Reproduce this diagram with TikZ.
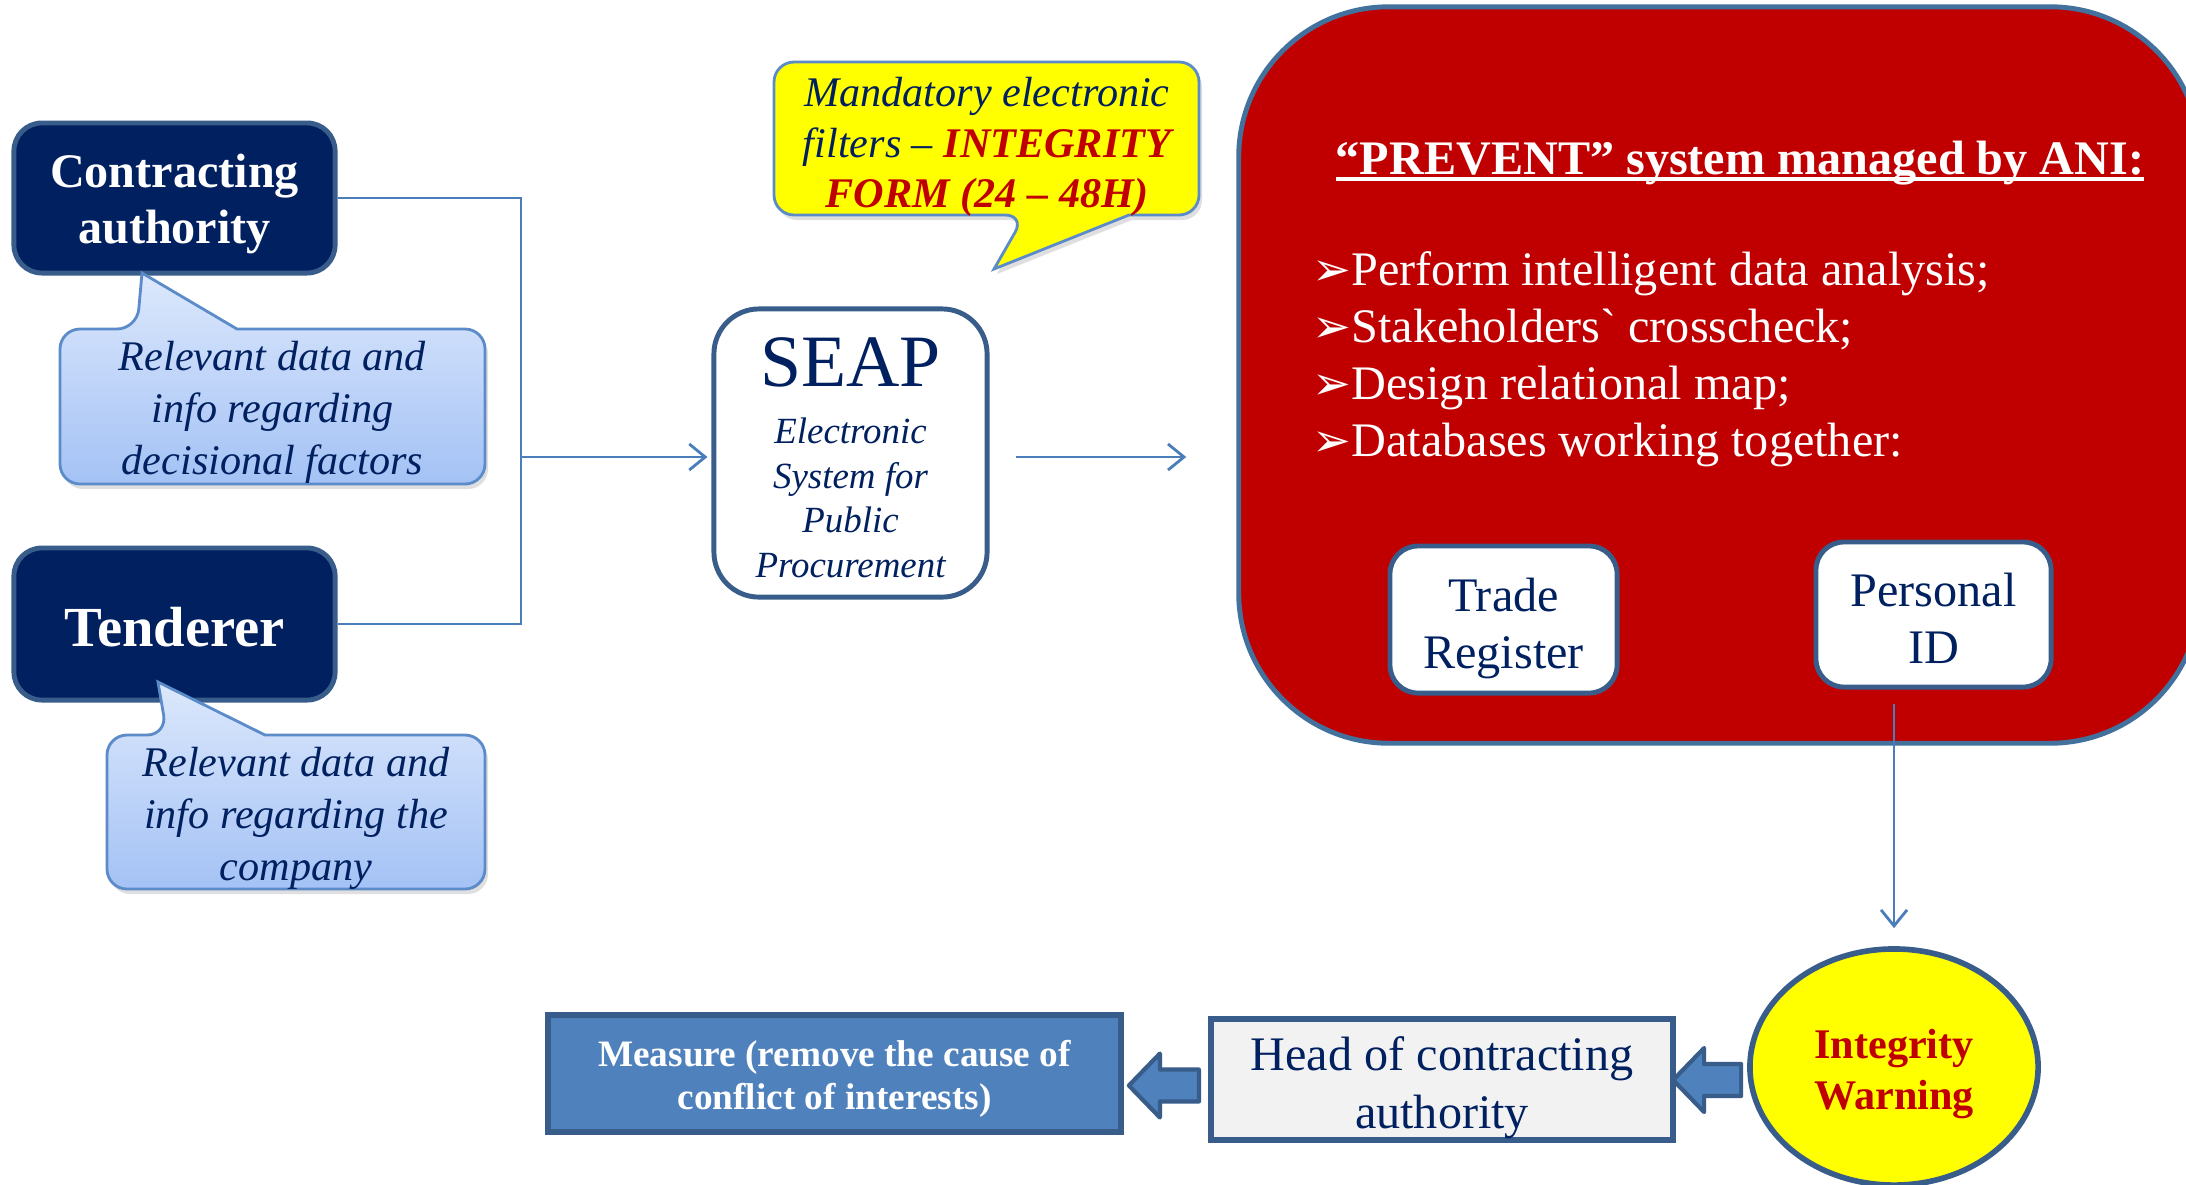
\documentclass[tikz,border=0pt]{standalone}
\usepackage{fontspec}
\setmainfont{Liberation Serif}
\newfontfamily\dejavu{DejaVu Sans}
\newfontfamily\rawserif{Liberation Serif}[Ligatures=TeXOff]
\usetikzlibrary{shapes.geometric,arrows.meta,calc,shadows}
\definecolor{navy}{HTML}{002060}
\definecolor{bordc}{HTML}{385D8A}
\definecolor{linec}{HTML}{4A7EBB}
\definecolor{cbord}{HTML}{5B8BC9}
\definecolor{cbtop}{HTML}{DCE8FC}
\definecolor{cbbot}{HTML}{A4C2F5}
\definecolor{redf}{HTML}{C00000}
\definecolor{redb}{HTML}{41719C}
\definecolor{darkred}{HTML}{C00000}
\definecolor{measf}{HTML}{4F81BD}
\definecolor{headf}{HTML}{F2F2F2}
\definecolor{yell}{HTML}{FFFF00}
\newcommand\fsz[2]{\fontsize{#1}{#2}\selectfont}
\newcommand\myul[1]{\setbox0=\hbox{#1}\rlap{\rule[-0.14em]{\wd0}{0.07em}}\box0}
\newcommand\bulmark{{\dejavu\fsz{13.2}{13}➢}}
\tikzset{
  darkbox/.style={draw=bordc, line width=1.4pt, fill=navy, rounded corners=0.28cm, inner sep=0},
  whitebox/.style={draw=bordc, line width=1.4pt, fill=white, rounded corners=0.28cm, inner sep=0},
  txt/.style={inner sep=0, align=center},
  callout/.style={draw=cbord, line width=0.8pt, top color=cbtop, bottom color=cbbot, drop shadow={opacity=0.25, shadow xshift=0.03cm, shadow yshift=-0.05cm}},
  ycallout/.style={draw=cbord, line width=0.8pt, fill=yell, drop shadow={opacity=0.25, shadow xshift=0.03cm, shadow yshift=-0.05cm}},
  ctext/.style={text=navy, align=center, inner sep=0, font=\itshape\fsz{12}{14.8}},
  conn/.style={draw=linec, line width=0.8pt},
  arr/.style={-{Straight Barb[length=0.16cm,width=0.26cm]}},
  barrow/.style={draw=bordc, line width=1.2pt, fill=measf, line join=round},
}
\begin{document}
\begin{tikzpicture}[x=0.01cm,y=-0.01cm]
\useasboundingbox (0,0) rectangle (2186,1184);
\fill[white] (0,0) rectangle (2186,1184);
\clip (0,0) rectangle (2186,1184);

% PREVENT red box
\node[draw=redb, line width=1.4pt, fill=redf, rounded corners=1.5cm, minimum width=9.61cm, minimum height=7.36cm, inner sep=0] (prev) at (1719.5,375) {};
\node[anchor=base, text=white, inner sep=0, font=\bfseries\fsz{13.7}{16}] (title) at (1740,174) {\myul{“PREVENT” system managed by ANI:}};
\node[anchor=north west, align=left, inner sep=0, text=white, font=\fsz{13.7}{16.2}] (bul) at (1312,251)
 {\bulmark Perform intelligent data analysis;\\
  \bulmark Stakeholders{\rawserif `} crosscheck;\\
  \bulmark Design relational map;\\
  \bulmark Databases working together:};
\node[whitebox, minimum width=2.27cm, minimum height=1.47cm] (trade) at (1503.5,619.5) {};
\node[txt, text=navy, font=\fsz{13.7}{16.2}] (tradet) at (1503.5,628) {Trade\\Register};
\node[whitebox, minimum width=2.35cm, minimum height=1.45cm] (pid) at (1933.5,614.5) {};
\node[txt, text=navy, font=\fsz{13.7}{16.2}] (pidt) at (1933.5,618) {Personal\\ID};

% left boxes
\node[darkbox, minimum width=3.21cm, minimum height=1.50cm] (ca) at (174.5,198) {};
\node[txt, text=white, font=\bfseries\fsz{13.7}{16}] (cat) at (174.5,204) {Contracting\\authority};
\node[darkbox, minimum width=3.21cm, minimum height=1.52cm] (ten) at (174.5,624) {};
\node[txt, text=white, font=\bfseries\fsz{16.1}{18}] (tent) at (174.5,627) {Tenderer};

% callouts
\path[callout] (142,273) -- (237,329) [rounded corners=0.2cm] -- (485,329) -- (485,484) -- (60,484) -- (60,329) -- (137,329) [sharp corners] -- cycle;
\node[ctext] (cb1) at (272.5,412) {Relevant data and\\info regarding\\decisional factors};
\path[callout] (158,682) -- (265,735) [rounded corners=0.2cm] -- (485,735) -- (485,889) -- (107,889) -- (107,735) -- (167,735) [sharp corners] -- cycle;
\node[ctext] (cb2) at (296,818) {Relevant data and\\info regarding the\\company};

% yellow callout
\path[ycallout] (994,269) -- (1129,215) [rounded corners=0.2cm] -- (1199,215) -- (1199,62) -- (774,62) -- (774,215) -- (1025,215) [sharp corners] -- cycle;
\node[ctext, font=\itshape\fsz{12}{14.4}] (yt) at (987,147) {Mandatory electronic\\filters – {\bfseries\color{darkred}INTEGRITY}\\{\bfseries\color{darkred}FORM (24 – 48H)}};

% SEAP
\node[whitebox, rounded corners=0.45cm, minimum width=2.73cm, minimum height=2.88cm] (seap) at (850.5,453) {};
\node[txt, text=navy, font=\itshape\fsz{10.5}{12.7}] (seapt) at (850.5,458)
 {{\upshape\fsz{21}{24}\selectfont SEAP}\\[3.4pt]Electronic\\System for\\Public\\Procurement};

% connectors
\coordinate (jn) at (521,457);
\draw[conn] (ca.east) -| (jn) |- (ten.east);
\draw[conn, arr, shorten >=0.04cm] (jn) -- (jn -| seap.west);
\draw[conn, arr] ([xshift=0.26cm]jn -| seap.east) -- ([xshift=-0.5cm]jn -| prev.west);

% bottom row
\node[ellipse, draw=bordc, line width=1.6pt, fill=yell, minimum width=2.88cm, minimum height=2.36cm, inner sep=0] (warn) at (1894,1067) {};
\node[txt, text=darkred, font=\bfseries\fsz{12}{14.5}] (warnt) at (1894,1074) {Integrity\\Warning};
\node[draw=bordc, line width=1.7pt, fill=headf, minimum width=4.62cm, minimum height=1.21cm, inner sep=0] (head) at (1442,1079.5) {};
\node[txt, text=navy, font=\fsz{13.7}{16.5}] (headt) at (1442,1087.5) {Head of contracting\\authority};
\node[draw=bordc, line width=1.7pt, fill=measf, minimum width=5.73cm, minimum height=1.17cm, inner sep=0] (meas) at (834.5,1073.5) {};
\node[txt, text=white, font=\bfseries\fsz{10.6}{12.2}] (meast) at (834.5,1079) {Measure (remove the cause of\\conflict of interests)};

\draw[conn, arr, shorten <=0.14cm, shorten >=0.18cm] (pid.south -| warn.north) -- (warn.north);

\draw[barrow] ($(head.west)+(-9,6)$) ++(0,-16) -- ++(-39,0) -- ++(0,-16) -- ++(-31,32) -- ++(31,32) -- ++(0,-16) -- ++(39,0) -- cycle;
\draw[barrow] ($(warn.west)+(-6,13)$) ++(0,-16) -- ++(-37,0) -- ++(0,-16) -- ++(-31,32) -- ++(31,32) -- ++(0,-16) -- ++(37,0) -- cycle;
\end{tikzpicture}
\end{document}
